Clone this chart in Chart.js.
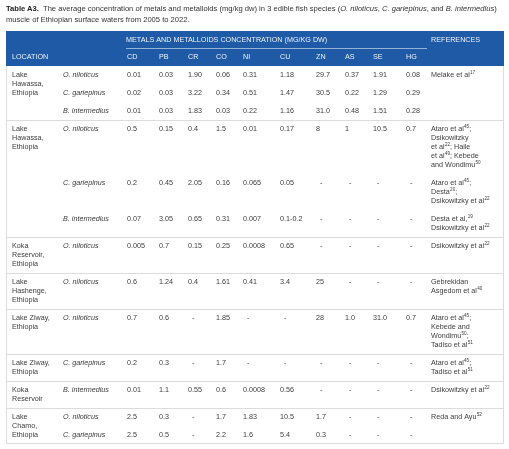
<!DOCTYPE html>
<html>
<head>
<meta charset="utf-8">
<script src="https://cdn.jsdelivr.net/npm/chart.js@4"></script>
<style>
  html, body { margin: 0; padding: 0; background: #fff; }
  #wrap { position: relative; width: 509px; height: 449px; }
  #title {
    position: absolute; left: 6px; top: 3px; width: 503px; white-space: nowrap;
    font-family: "Liberation Sans", Arial, sans-serif; font-size: 7.6px; line-height: 11px; color: #333;
  }
  #title b { color: #222; }
  canvas { position: absolute; left: 0; top: 0; }
</style>
</head>
<body>
<div id="wrap">
  <canvas id="table-chart" width="509" height="449"></canvas>
  <div id="title"><b>Table A3.</b>&nbsp; The average concentration of metals and metalloids (mg/kg dw) in 3 edible fish species (<i>O. niloticus</i>, <i>C. gariepinus</i>, and <i>B. intermedius</i>)<br>muscle of Ethiopian surface waters from 2005 to 2022.</div>
</div>
<script>
// ---- data ----
const metals = ['CD', 'PB', 'CR', 'CO', 'NI', 'CU', 'ZN', 'AS', 'SE', 'HG'];

const locations = [
  'Lake\nHawassa,\nEthiopia',
  'Lake\nHawassa,\nEthiopia',
  'Koka\nReservoir,\nEthiopia',
  'Lake\nHashenge,\nEthiopia',
  'Lake Ziway,\nEthiopia',
  'Lake Ziway,\nEthiopia',
  'Koka\nReservoir',
  'Lake\nChamo,\nEthiopia'
];

// which location group each row belongs to
const rowGroup = [0, 0, 0, 1, 1, 1, 2, 3, 4, 5, 6, 7, 7];

const species = [
  'O. niloticus', 'C. gariepinus', 'B. intermedius',
  'O. niloticus', 'C. gariepinus', 'B. intermedius',
  'O. niloticus', 'O. niloticus', 'O. niloticus', 'C. gariepinus',
  'B. intermedius', 'O. niloticus', 'C. gariepinus'
];

const cd = ['0.01', '0.02', '0.01', '0.5', '0.2', '0.07', '0.005', '0.6', '0.7', '0.2', '0.01', '2.5', '2.5'];
const pb = ['0.03', '0.03', '0.03', '0.15', '0.45', '3.05', '0.7', '1.24', '0.6', '0.3', '1.1', '0.3', '0.5'];
const cr = ['1.90', '3.22', '1.83', '0.4', '2.05', '0.65', '0.15', '0.4', '-', '-', '0.55', '-', '-'];
const co = ['0.06', '0.34', '0.03', '1.5', '0.16', '0.31', '0.25', '1.61', '1.85', '1.7', '0.6', '1.7', '2.2'];
const ni = ['0.31', '0.51', '0.22', '0.01', '0.065', '0.007', '0.0008', '0.41', '-', '-', '0.0008', '1.83', '1.6'];
const cu = ['1.18', '1.47', '1.16', '0.17', '0.05', '0.1-0.2', '0.65', '3.4', '-', '-', '0.56', '10.5', '5.4'];
const zn = ['29.7', '30.5', '31.0', '8', '-', '-', '-', '25', '28', '-', '-', '1.7', '0.3'];
const as = ['0.37', '0.22', '0.48', '1', '-', '-', '-', '-', '1.0', '-', '-', '-', '-'];
const se = ['1.91', '1.29', '1.51', '10.5', '-', '-', '-', '-', '31.0', '-', '-', '-', '-'];
const hg = ['0.08', '0.29', '0.28', '0.7', '-', '-', '-', '-', '0.7', '-', '-', '-', '-'];

// "^nn" marks a superscript reference number
const references = [
  'Melake et al^17', '', '',
  'Ataro et al^45;\nDsikowitzky\net al^22; Haile\net al^49; Kebede\nand Wondimu^50',
  'Ataro et al^45;\nDesta^20;\nDsikowitzky et al^22',
  'Desta et al,^19\nDsikowitzky et al^22',
  'Dsikowitzky et al^22',
  'Gebrekidan\nAsgedom et al^40',
  'Ataro et al^45;\nKebede and\nWondimu^50;\nTadiso et al^51',
  'Ataro et al^45;\nTadiso et al^51',
  'Dsikowitzky et al^22',
  'Reda and Ayu^52',
  ''
];

// ---- layout ----
const colX = { loc: 12, sp: 63, metals: [127, 159, 188, 216, 243, 280, 316, 345, 373, 406], ref: 431, span: 126 };
const tableTop = 31, tableBottom = 444, tableLeft = 6, tableRight = 504;
const headerH = 35;       // header band height (table units)
const lineH = 9;          // line spacing
const rowPad = 9;         // extra height per row
const dashShift = 4;      // empty cells sit a little right of the column edge
const headBlue = '#1e5aa5';
const headText = '#edf2f9';
const bodyText = '#3b3b3b';
const ruleColor = '#dcdcdc';
const fontFam = '"Liberation Sans", Arial, sans-serif';

const values = [cd, pb, cr, co, ni, cu, zn, as, se, hg];

// build the cell list (one point per text line) and the row separators
const cells = [];
const rules = [];
cells.push({ x: colX.span, y: 9, text: 'METALS AND METALLOIDS CONCENTRATION (MG/KG DW)', kind: 'head' });
cells.push({ x: colX.ref, y: 9, text: 'REFERENCES', kind: 'head' });
cells.push({ x: colX.loc, y: 26.5, text: 'LOCATION', kind: 'head' });
metals.forEach((m, k) => cells.push({ x: colX.metals[k], y: 26.5, text: m, kind: 'head' }));

let rowTop = headerH;
species.forEach((sp, r) => {
  const g = rowGroup[r];
  const first = r === 0 || rowGroup[r - 1] !== g;
  const single = rowGroup.filter(v => v === g).length === 1;
  const refLines = references[r] ? references[r].split('\n') : [];
  const locLines = locations[g].split('\n');
  const lines = Math.max(1, refLines.length, single ? locLines.length : 1);
  if (first && r > 0) rules.push(rowTop);
  const c = rowTop + 9;
  if (first) locLines.forEach((t, i) => cells.push({ x: colX.loc, y: c + i * lineH, text: t, kind: 'loc' }));
  cells.push({ x: colX.sp, y: c, text: sp, kind: 'sp' });
  values.forEach((arr, k) => {
    const v = arr[r];
    cells.push({ x: colX.metals[k] + (v === '-' ? dashShift : 0), y: c, text: v, kind: 'val' });
  });
  refLines.forEach((t, i) => cells.push({ x: colX.ref, y: c + i * lineH, text: t, kind: 'ref' }));
  rowTop += lines * lineH + rowPad;
});
const bodyEnd = rowTop;

function drawRich(ctx, text, x, y, font, supFont) {
  const parts = text.split(/\^(\d+)/);
  let cx = x;
  parts.forEach((p, i) => {
    if (!p) return;
    if (i % 2) {
      ctx.font = supFont;
      ctx.fillText(p, cx + 0.3, y - 2.6);
      cx += ctx.measureText(p).width + 0.3;
    } else {
      ctx.font = font;
      ctx.fillText(p, cx, y);
      cx += ctx.measureText(p).width;
    }
  });
}

const tablePlugin = {
  id: 'tableDraw',
  beforeDatasetsDraw(chart) {
    const { ctx, scales: { x, y } } = chart;
    ctx.save();
    // header band
    const h0 = y.getPixelForValue(0), h1 = y.getPixelForValue(headerH);
    ctx.fillStyle = headBlue;
    ctx.fillRect(x.getPixelForValue(tableLeft), h0, x.getPixelForValue(tableRight) - x.getPixelForValue(tableLeft), h1 - h0);
    // rule under the span heading
    ctx.strokeStyle = 'rgba(190, 210, 235, 0.75)';
    ctx.lineWidth = 1;
    ctx.beginPath();
    ctx.moveTo(x.getPixelForValue(colX.span), Math.round(y.getPixelForValue(17)) + 0.5);
    ctx.lineTo(x.getPixelForValue(colX.ref - 4), Math.round(y.getPixelForValue(17)) + 0.5);
    ctx.stroke();
    // row separators
    ctx.strokeStyle = ruleColor;
    rules.forEach(v => {
      const py = Math.round(y.getPixelForValue(v)) + 0.5;
      ctx.beginPath();
      ctx.moveTo(x.getPixelForValue(tableLeft), py);
      ctx.lineTo(x.getPixelForValue(tableRight), py);
      ctx.stroke();
    });
    // outer border of the body
    const b = Math.round(y.getPixelForValue(bodyEnd)) - 0.5;
    ctx.beginPath();
    ctx.moveTo(x.getPixelForValue(tableLeft) + 0.5, h1);
    ctx.lineTo(x.getPixelForValue(tableLeft) + 0.5, b);
    ctx.lineTo(x.getPixelForValue(tableRight) - 0.5, b);
    ctx.lineTo(x.getPixelForValue(tableRight) - 0.5, h1);
    ctx.stroke();
    ctx.restore();
  },
  afterDatasetsDraw(chart) {
    const { ctx } = chart;
    const meta = chart.getDatasetMeta(0);
    const data = chart.data.datasets[0].data;
    ctx.save();
    ctx.textBaseline = 'middle';
    ctx.textAlign = 'left';
    meta.data.forEach((pt, i) => {
      const cell = data[i];
      if (cell.kind === 'head') {
        ctx.fillStyle = headText;
        ctx.font = '7.2px ' + fontFam;
        ctx.fillText(cell.text, pt.x, pt.y);
      } else if (cell.kind === 'sp') {
        ctx.fillStyle = bodyText;
        ctx.font = 'italic 7.2px ' + fontFam;
        ctx.fillText(cell.text, pt.x, pt.y);
      } else {
        ctx.fillStyle = bodyText;
        drawRich(ctx, cell.text, pt.x, pt.y, '7.2px ' + fontFam, '4.6px ' + fontFam);
      }
    });
    ctx.restore();
  }
};

const ctx = document.getElementById('table-chart').getContext('2d');

new Chart(ctx, {
  type: 'scatter',
  data: {
    datasets: [{
      data: cells,
      pointRadius: 0,
      pointHoverRadius: 0
    }]
  },
  options: {
    responsive: false,
    animation: false,
    events: [],
    layout: { padding: { left: 0, right: 0, top: tableTop, bottom: 449 - tableBottom } },
    scales: {
      x: { type: 'linear', display: false, min: 0, max: 509 },
      y: { type: 'linear', display: false, min: 0, max: tableBottom - tableTop, reverse: true }
    },
    plugins: {
      legend: { display: false },
      tooltip: { enabled: false }
    }
  },
  plugins: [tablePlugin]
});
</script>
</body>
</html>
